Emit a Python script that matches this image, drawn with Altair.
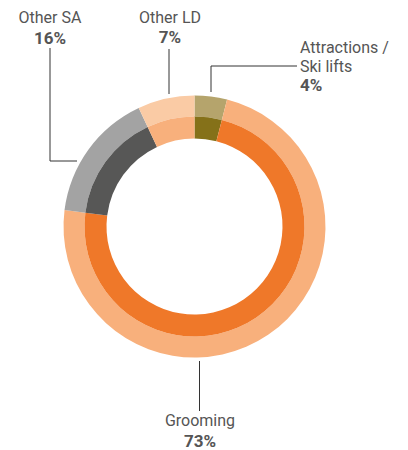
import altair as alt
import pandas as pd

categories = ["Attractions / Ski lifts", "Grooming", "Other SA", "Other LD"]
shares = [4, 73, 16, 7]
outer_colors = ["#b5a46c", "#f8b07c", "#a3a3a3", "#facba5"]
inner_colors = ["#857119", "#ef7829", "#575756", "#f8b07c"]

df = pd.DataFrame({
    "category": categories,
    "share": shares,
    "order": list(range(len(categories))),
    "outer": outer_colors,
    "inner": inner_colors,
})

CX, CY = 194.5, 226.5
FONT = "Roboto"
TXT = "#555555"
LINE = "#333333"

base = alt.Chart(df).encode(
    theta=alt.Theta("share:Q", stack=True),
    order=alt.Order("order:Q"),
    x=alt.value(CX),
    y=alt.value(CY),
)
outer = base.mark_arc(radius=131, radius2=110).encode(color=alt.Color("outer:N", scale=None))
inner = base.mark_arc(radius=110, radius2=88).encode(color=alt.Color("inner:N", scale=None))

one = pd.DataFrame({"a": [0]})

def rule(x1, y1, x2, y2):
    return alt.Chart(one).mark_rule(color=LINE, strokeWidth=1).encode(
        x=alt.value(x1), y=alt.value(y1), x2=alt.value(x2), y2=alt.value(y2))

def text(t, x, y, align="center", bold=False):
    return alt.Chart(one).mark_text(
        text=t, align=align, baseline="alphabetic", font=FONT,
        fontSize=17 if bold else 16,
        fontWeight="bold" if bold else "normal", color=TXT
    ).encode(x=alt.value(x), y=alt.value(y))

layers = [
    outer, inner,
    rule(50, 48, 50, 161), rule(50, 161, 77, 161),
    rule(169, 49, 169, 94),
    rule(211, 92, 211, 66), rule(211, 66, 297, 66),
    rule(199.5, 361, 199.5, 411),
    text("Other SA", 50, 23), text("16%", 50, 44, bold=True),
    text("Other LD", 170, 23), text("7%", 170, 43, bold=True),
    text("Attractions /", 300, 53, align="left"), text("Ski lifts", 300, 72, align="left"),
    text("4%", 300, 91, align="left", bold=True),
    text("Grooming", 200, 426), text("73%", 200, 447, bold=True),
]

chart = alt.layer(*layers).properties(
    width=408, height=450, padding=0, autosize=alt.AutoSizeParams(type="none")
).configure_view(stroke=None)

chart.save("out.html", embed_options={"renderer": "svg", "actions": False})
